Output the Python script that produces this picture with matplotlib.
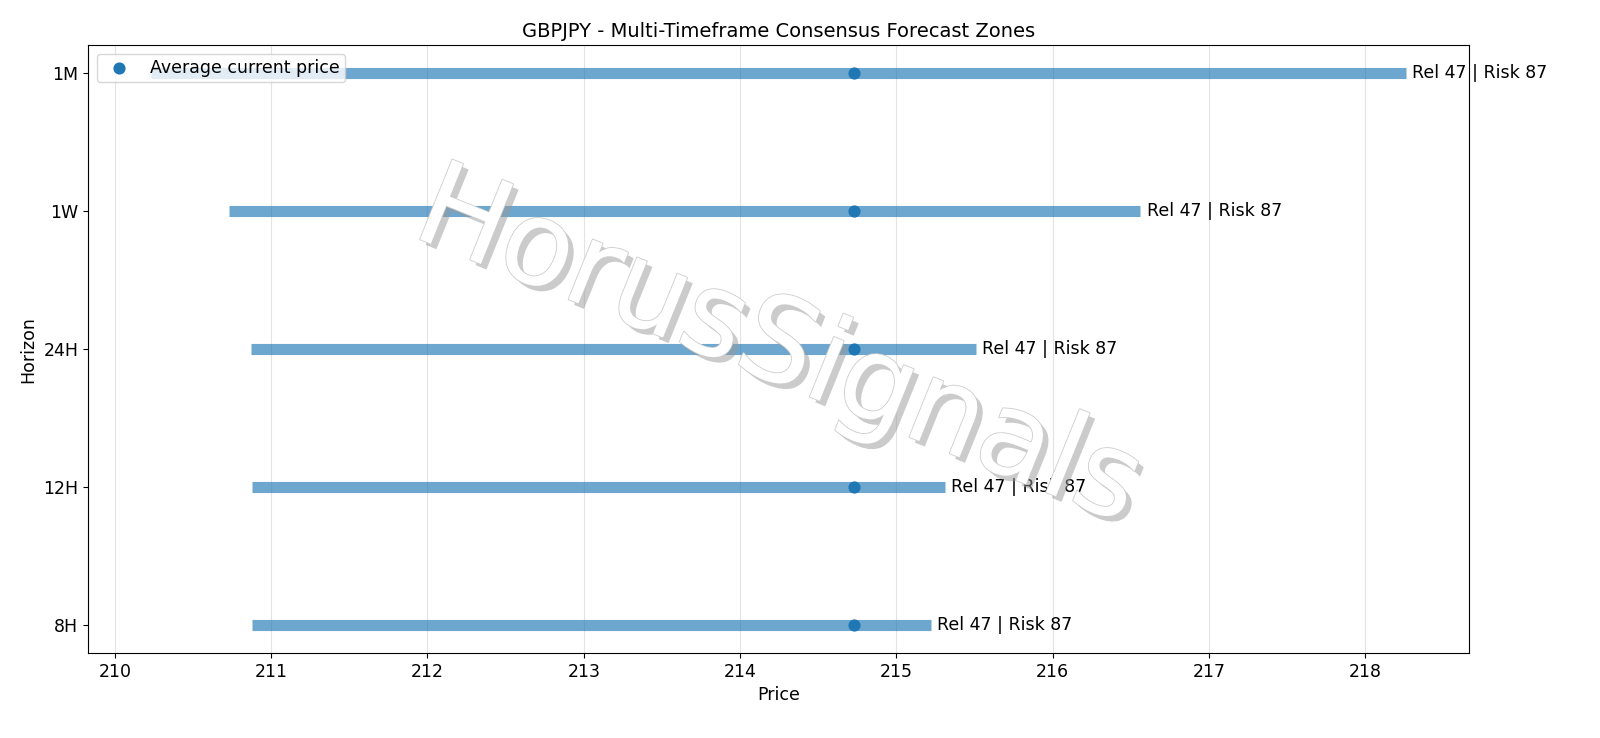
import matplotlib
matplotlib.use("Agg")
import matplotlib.pyplot as plt
import matplotlib.patheffects as pe

horizons = ["8H", "12H", "24H", "1W", "1M"]
lows = [210.88, 210.88, 210.87, 210.73, 210.23]
highs = [215.22, 215.31, 215.51, 216.56, 218.26]
current = [214.73, 214.73, 214.73, 214.73, 214.73]
labels = ["Rel 47 | Risk 87"] * 5

plt.rcParams.update({"font.size": 12.5})
fig, ax = plt.subplots(figsize=(16, 7.38), dpi=100)
fig.subplots_adjust(left=0.055, right=0.918, top=0.939, bottom=0.115)
y = list(range(len(horizons)))
for i in y:
    ax.hlines(i, lows[i], highs[i], color="#1f77b4", alpha=0.65, linewidth=8)
    ax.text(highs[i] + 0.04, i, labels[i], va="center", fontsize=12.5)
ax.scatter(current, y, color="#1f77b4", s=60, zorder=3, label="Average current price")
ax.set_yticks(y)
ax.set_yticklabels(horizons)
ax.set_xlabel("Price")
ax.set_ylabel("Horizon")
ax.set_title("GBPJPY - Multi-Timeframe Consensus Forecast Zones", fontsize=14)
ax.grid(axis="x", alpha=0.35)
ax.legend(loc="upper left", fontsize=12.5, borderpad=0.3)
ax.text(0.5, 0.5, "HorusSignals", transform=ax.transAxes, fontsize=85, color="white",
        rotation=-22, ha="center", va="center",
        path_effects=[pe.withSimplePatchShadow(offset=(4, -4), shadow_rgbFace="#999999", alpha=0.5),
                      pe.Stroke(linewidth=1.2, foreground="#cccccc"), pe.Normal()])
fig.savefig("out.png")
